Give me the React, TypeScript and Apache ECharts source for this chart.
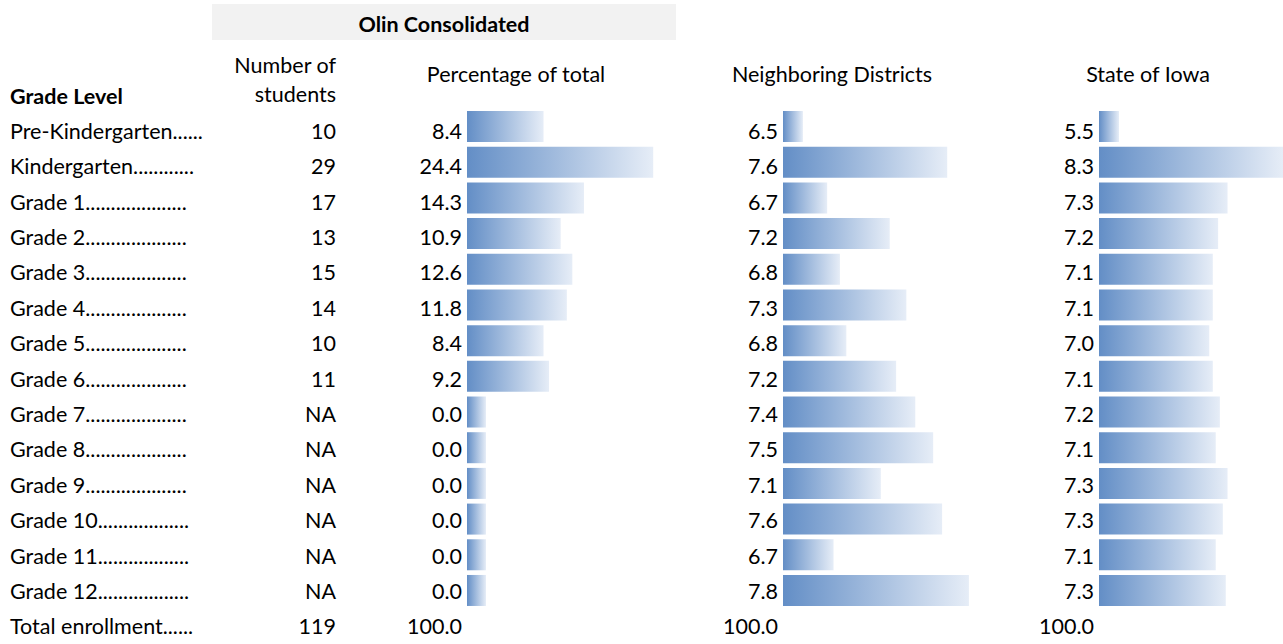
import React, { useEffect, useRef } from "react";
import * as echarts from "echarts";

// ---- Data ----
const gradeLabels = [
  "Pre-Kindergarten" + ".".repeat(6),
  "Kindergarten" + ".".repeat(12),
  "Grade 1" + ".".repeat(20),
  "Grade 2" + ".".repeat(20),
  "Grade 3" + ".".repeat(20),
  "Grade 4" + ".".repeat(20),
  "Grade 5" + ".".repeat(20),
  "Grade 6" + ".".repeat(20),
  "Grade 7" + ".".repeat(20),
  "Grade 8" + ".".repeat(20),
  "Grade 9" + ".".repeat(20),
  "Grade 10" + ".".repeat(18),
  "Grade 11" + ".".repeat(18),
  "Grade 12" + ".".repeat(18),
];
const totalLabel = "Total enrollment" + ".".repeat(6);
const studentCounts: (number | null)[] = [10, 29, 17, 13, 15, 14, 10, 11, null, null, null, null, null, null];
const totalStudents = 119;
const pctOfTotal = [8.4, 24.4, 14.3, 10.9, 12.6, 11.8, 8.4, 9.2, 0.0, 0.0, 0.0, 0.0, 0.0, 0.0];
const neighboringDistricts = [6.5, 7.63, 6.69, 7.18, 6.79, 7.31, 6.84, 7.23, 7.38, 7.52, 7.11, 7.59, 6.74, 7.8];
const stateOfIowa = [5.5, 8.3, 7.34, 7.18, 7.09, 7.09, 7.03, 7.09, 7.21, 7.14, 7.34, 7.26, 7.14, 7.31];
const totalPct = 100.0;
const columnTitles = ["Percentage of total", "Neighboring Districts", "State of Iowa"];
const groupTitle = "Olin Consolidated";

const FONT = "Lato";
const FS = 21.5;

export default function App() {
  const ref = useRef<HTMLDivElement>(null);
  useEffect(() => {
    if (!ref.current) return;
    const chart = echarts.init(ref.current, undefined, { renderer: "svg" });
    const categories = [...gradeLabels, totalLabel];
    const fmt = (v: number) => v.toFixed(1);
    const gradient = () =>
      new echarts.graphic.LinearGradient(0, 0, 1, 0, [
        { offset: 0, color: "#638ec6" },
        { offset: 1, color: "#e6edf7" },
      ]);
    const top = 108.65;
    const height = 535.5;
    const textShift = 4.5;
    const colLefts = [467, 783, 1099];
    const grids = [
      { left: colLefts[0], top, width: 250, height },
      { left: colLefts[1], top, width: 250, height },
      { left: colLefts[2], top, width: 184, height },
      { left: colLefts[0], top: top + textShift, width: 100, height },
      { left: colLefts[1], top: top + textShift, width: 100, height },
      { left: colLefts[2], top: top + textShift, width: 100, height },
    ];
    const catAxis = (gridIndex: number, extra: any, labels: string[] | null) => ({
      type: "category",
      gridIndex,
      position: "left",
      inverse: true,
      data: categories,
      axisLine: { show: false },
      axisTick: { show: false },
      splitLine: { show: false },
      ...extra,
      axisLabel: labels
        ? {
            show: true,
            fontFamily: FONT,
            fontSize: FS,
            color: "#000",
            interval: 0,
            margin: 5,
            ...(extra.axisLabel || {}),
            formatter: (_v: string, i: number) => labels[i] ?? "",
          }
        : { show: false },
    });
    const pctLabels = [...pctOfTotal.map(fmt), fmt(totalPct)];
    const nbLabels = [...neighboringDistricts.map(fmt), fmt(totalPct)];
    const iaLabels = [...stateOfIowa.map(fmt), fmt(totalPct)];
    const countLabels = [...studentCounts.map((c) => (c === null ? "NA" : String(c))), String(totalStudents)];

    const titleText = (text: string, x: number, y: number, align: string, bold = false) => ({
      type: "text",
      x,
      y,
      style: {
        text,
        fill: "#000",
        fontFamily: FONT,
        fontSize: FS,
        fontWeight: bold ? "bold" : "normal",
        align,
        verticalAlign: "middle",
      },
    });

    chart.setOption({
      animation: false,
      backgroundColor: "#fff",
      grid: grids,
      xAxis: [
        { type: "value", gridIndex: 0, min: -2.77, max: 33.71, startValue: -2.77, show: false },
        { type: "value", gridIndex: 1, min: 6.344, max: 8.302, startValue: 6.344, show: false },
        { type: "value", gridIndex: 2, min: 5.161, max: 8.28, startValue: 5.161, show: false },
        { type: "value", gridIndex: 3, show: false },
        { type: "value", gridIndex: 4, show: false },
        { type: "value", gridIndex: 5, show: false },
      ],
      yAxis: [
        catAxis(0, {}, null),
        catAxis(1, {}, null),
        catAxis(2, {}, null),
        catAxis(3, {}, pctLabels),
        catAxis(3, { offset: 126 }, countLabels),
        catAxis(3, { offset: 457, axisLabel: { align: "left", margin: 0 } }, categories),
        catAxis(4, {}, nbLabels),
        catAxis(5, {}, iaLabels),
      ],
      series: [
        {
          type: "bar",
          xAxisIndex: 0,
          yAxisIndex: 0,
          barWidth: 31,
          data: [...pctOfTotal, "-"],
          itemStyle: { color: gradient() },
        },
        {
          type: "bar",
          xAxisIndex: 1,
          yAxisIndex: 1,
          barWidth: 31,
          data: [...neighboringDistricts, "-"],
          itemStyle: { color: gradient() },
        },
        {
          type: "bar",
          xAxisIndex: 2,
          yAxisIndex: 2,
          barWidth: 31,
          data: [...stateOfIowa, "-"],
          itemStyle: { color: gradient() },
        },
      ],
      graphic: [
        { type: "rect", shape: { x: 212, y: 4, width: 464, height: 36 }, style: { fill: "#f2f2f2" } },
        titleText(groupTitle, 444, 24, "center", true),
        titleText("Grade Level", 10, 96, "left", true),
        titleText("Number of", 336, 65, "right"),
        titleText("students", 336, 94, "right"),
        titleText(columnTitles[0], 516, 74, "center"),
        titleText(columnTitles[1], 832, 74, "center"),
        titleText(columnTitles[2], 1148, 74, "center"),
      ],
    });
    return () => chart.dispose();
  }, []);
  return (
    <div
      ref={ref}
      style={{ position: "fixed", left: 0, top: 0, width: 1283, height: 644, background: "#fff" }}
    />
  );
}
